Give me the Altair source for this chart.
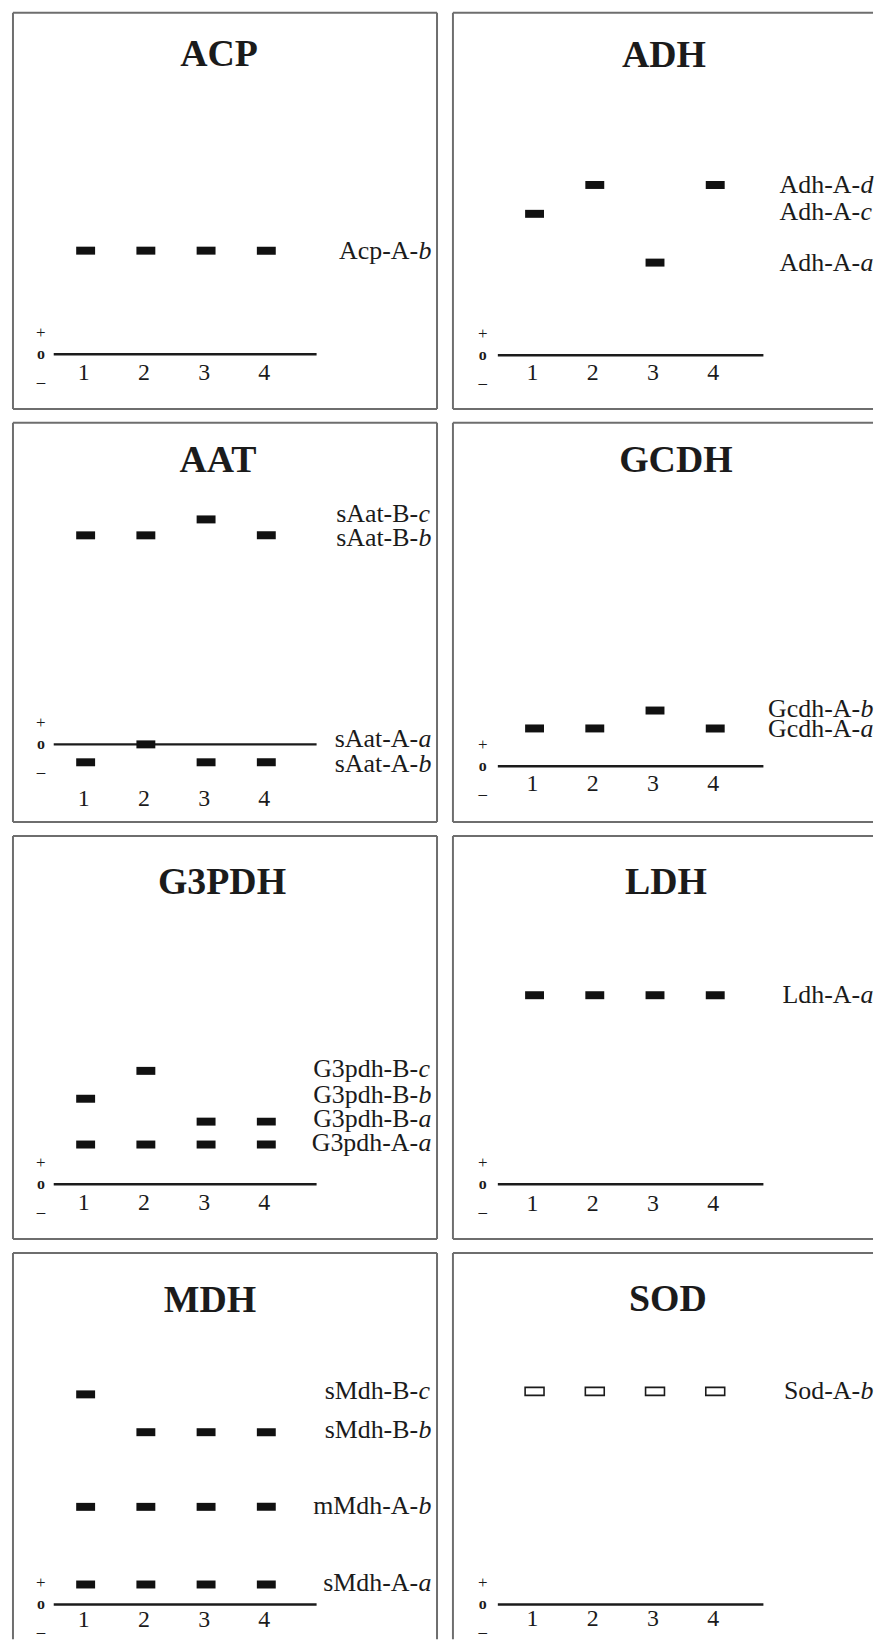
import altair as alt
import pandas as pd

# ---------------- data ----------------
LANES = [1, 2, 3, 4]
LANE_TEXT = ["1", "2", "3", "4"]

ENZYMES = ["ACP", "ADH", "AAT", "GCDH", "G3PDH", "LDH", "MDH", "SOD"]

# relative mobility (units above origin "o"), one entry per allele
ACP_ALLELES = ["Acp-A-b"]
ACP_MOBILITY = [104]
ACP_LABEL_Y = [104]
ACP_LANES = [[1, 2, 3, 4]]

ADH_ALLELES = ["Adh-A-d", "Adh-A-c", "Adh-A-a"]
ADH_MOBILITY = [171, 142, 93]
ADH_LABEL_Y = [171, 144, 93]
ADH_LANES = [[2, 4], [1], [3]]

AAT_ALLELES = ["sAat-B-c", "sAat-B-b", "sAat-A-a", "sAat-A-b"]
AAT_MOBILITY = [226, 210, 0, -18]
AAT_LABEL_Y = [231, 207, 5, -20]
AAT_LANES = [[3], [1, 2, 4], [2], [1, 3, 4]]

GCDH_ALLELES = ["Gcdh-A-b", "Gcdh-A-a"]
GCDH_MOBILITY = [56, 38]
GCDH_LABEL_Y = [58, 37]
GCDH_LANES = [[3], [1, 2, 4]]

G3PDH_ALLELES = ["G3pdh-B-c", "G3pdh-B-b", "G3pdh-B-a", "G3pdh-A-a"]
G3PDH_MOBILITY = [114, 86, 63, 40]
G3PDH_LABEL_Y = [116, 90, 66, 41]
G3PDH_LANES = [[2], [1], [3, 4], [1, 2, 3, 4]]

LDH_ALLELES = ["Ldh-A-a"]
LDH_MOBILITY = [190]
LDH_LABEL_Y = [190]
LDH_LANES = [[1, 2, 3, 4]]

MDH_ALLELES = ["sMdh-B-c", "sMdh-B-b", "mMdh-A-b", "sMdh-A-a"]
MDH_MOBILITY = [211, 173, 98, 20]
MDH_LABEL_Y = [214, 175, 99, 21]
MDH_LANES = [[1], [2, 3, 4], [1, 2, 3, 4], [1, 2, 3, 4]]

SOD_ALLELES = ["Sod-A-b"]
SOD_MOBILITY = [214]
SOD_LABEL_Y = [214]
SOD_LANES = [[1, 2, 3, 4]]

# where lane numbers sit (below origin) and where the origin sits in each gel frame
LANE_NUMBER_Y = [-19, -18, -55, -18, -19, -20, -16, -15]
ORIGIN_FROM_TOP = [343, 344, 323, 345, 350, 350, 353, 353]
HOLLOW = [False, False, False, False, False, False, False, True]

POLARITY_SYMBOLS = ["+", "–"]
POLARITY_Y = [21, -28]
ORIGIN_SYMBOL = ["o"]
ORIGIN_Y = [0]

PANELS = {
    "ACP": (ACP_ALLELES, ACP_MOBILITY, ACP_LABEL_Y, ACP_LANES),
    "ADH": (ADH_ALLELES, ADH_MOBILITY, ADH_LABEL_Y, ADH_LANES),
    "AAT": (AAT_ALLELES, AAT_MOBILITY, AAT_LABEL_Y, AAT_LANES),
    "GCDH": (GCDH_ALLELES, GCDH_MOBILITY, GCDH_LABEL_Y, GCDH_LANES),
    "G3PDH": (G3PDH_ALLELES, G3PDH_MOBILITY, G3PDH_LABEL_Y, G3PDH_LANES),
    "LDH": (LDH_ALLELES, LDH_MOBILITY, LDH_LABEL_Y, LDH_LANES),
    "MDH": (MDH_ALLELES, MDH_MOBILITY, MDH_LABEL_Y, MDH_LANES),
    "SOD": (SOD_ALLELES, SOD_MOBILITY, SOD_LABEL_Y, SOD_LANES),
}

# ---------------- layout / styling ----------------
SERIF = "Liberation Serif"
INK = "#1b1b1b"
FRAME = "#6e6e6e"
COL_WIDTH = [426, 422]
ROW_HEIGHT = [398, 401, 405, 388]
LANE1_PX = [73, 82]          # pixel position of lane 1 in each column
LANE_STEP_PX = 60.5
GEL_START = [0.47, 0.39]     # lane units
GEL_END = [4.835, 4.80]
TITLE_X = [207, 212, 206, 224, 210, 214, 198, 216]
TITLE_Y = [42, 43, 38, 38, 47, 47, 48, 47]
LABEL_ANCHOR = [407, 409]
BAND_HALF_W = 0.157   # lane units
BAND_HALF_H = 4       # mobility units


def frame_layers(col, row, width, height):
    """Gel frame edges; the right column's right edge and the last row's bottom
    edge fall outside the cropped reference picture."""
    one = pd.DataFrame({"k": [0]})
    base = alt.Chart(one).mark_rule(color=FRAME, strokeWidth=2)
    layers = [
        base.encode(x=alt.value(0), x2=alt.value(width), y=alt.value(0)),
        base.encode(x=alt.value(0), y=alt.value(0), y2=alt.value(height)),
    ]
    if col == 0:
        layers.append(base.encode(x=alt.value(width), y=alt.value(0), y2=alt.value(height)))
    if row < 3:
        layers.append(base.encode(x=alt.value(0), x2=alt.value(width), y=alt.value(height)))
    return layers


def make_panel(i, name):
    col, row = i % 2, i // 2
    width, height = COL_WIDTH[col], ROW_HEIGHT[row]
    alleles, mobility, label_y, lanes = PANELS[name]
    x_lo = 1 - LANE1_PX[col] / LANE_STEP_PX
    x_hi = 1 + (width - LANE1_PX[col]) / LANE_STEP_PX
    xs = alt.Scale(domain=[x_lo, x_hi], nice=False, zero=False)
    top = ORIGIN_FROM_TOP[i]
    ys = alt.Scale(domain=[top - height, top], nice=False, zero=False)

    band_df = pd.DataFrame(
        [{"lane": l, "allele": a, "mob": m}
         for a, m, ls in zip(alleles, mobility, lanes) for l in ls]
    )
    label_df = pd.DataFrame({
        "prefix": [a[:-1] for a in alleles],
        "suffix": [a[-1] for a in alleles],
        "ly": label_y,
    })
    lane_df = pd.DataFrame({"lane": LANES, "txt": LANE_TEXT,
                            "ly": [LANE_NUMBER_Y[i]] * len(LANES)})
    pol_df = pd.DataFrame({"s": POLARITY_SYMBOLS, "py": POLARITY_Y})
    org_df = pd.DataFrame({"s": ORIGIN_SYMBOL, "py": ORIGIN_Y})
    gel_df = pd.DataFrame({"a": [GEL_START[col]], "b": [GEL_END[col]], "m": [0]})
    title_df = pd.DataFrame({"t": [name]})

    title = alt.Chart(title_df).mark_text(
        font=SERIF, fontSize=38, fontWeight="bold", color=INK,
        align="center", baseline="middle"
    ).encode(text="t:N", x=alt.value(TITLE_X[i]), y=alt.value(TITLE_Y[i]))

    gel_line = alt.Chart(gel_df).mark_rule(color=INK, strokeWidth=2.5).encode(
        x=alt.X("a:Q", scale=xs, axis=None),
        x2="b:Q",
        y=alt.Y("m:Q", scale=ys, axis=None),
    )

    pol = alt.Chart(pol_df).mark_text(
        font=SERIF, fontSize=17, color=INK, align="center", baseline="middle"
    ).encode(text="s:N", x=alt.value(28 + 2 * col), y=alt.Y("py:Q", scale=ys, axis=None))

    org = alt.Chart(org_df).mark_text(
        font=SERIF, fontSize=16, fontWeight="bold", color=INK,
        align="center", baseline="middle"
    ).encode(text="s:N", x=alt.value(28 + 2 * col), y=alt.Y("py:Q", scale=ys, axis=None))

    lane_nums = alt.Chart(lane_df).mark_text(
        font=SERIF, fontSize=24, color=INK, align="center", baseline="middle", dx=-2
    ).encode(
        text="txt:N",
        x=alt.X("lane:Q", scale=xs, axis=None),
        y=alt.Y("ly:Q", scale=ys, axis=None),
    )

    if HOLLOW[i]:
        band_mark = alt.Chart(band_df).mark_rect(fill="white", stroke=INK, strokeWidth=1.6)
    else:
        band_mark = alt.Chart(band_df).mark_rect(color="#111111")
    bands = band_mark.transform_calculate(
        x0=f"datum.lane - {BAND_HALF_W}", x1=f"datum.lane + {BAND_HALF_W}",
        y0=f"datum.mob - {BAND_HALF_H}", y1=f"datum.mob + {BAND_HALF_H}",
    ).encode(
        x=alt.X("x0:Q", scale=xs, axis=None),
        x2="x1:Q",
        y=alt.Y("y0:Q", scale=ys, axis=None),
        y2="y1:Q",
    )

    prefix = alt.Chart(label_df).mark_text(
        font=SERIF, fontSize=26, color=INK, align="right", baseline="middle"
    ).encode(text="prefix:N", x=alt.value(LABEL_ANCHOR[col]),
             y=alt.Y("ly:Q", scale=ys, axis=None))
    suffix = alt.Chart(label_df).mark_text(
        font=SERIF, fontSize=26, fontStyle="italic", color=INK,
        align="left", baseline="middle"
    ).encode(text="suffix:N", x=alt.value(LABEL_ANCHOR[col] + 0.5),
             y=alt.Y("ly:Q", scale=ys, axis=None))

    return alt.layer(
        *frame_layers(col, row, width, height),
        title, gel_line, pol, org, lane_nums, bands, prefix, suffix
    ).properties(width=width, height=height)


panels = [make_panel(i, n) for i, n in enumerate(ENZYMES)]
rows = [
    alt.hconcat(panels[k], panels[k + 1], spacing=14).resolve_scale(x="independent", y="independent")
    for k in range(0, 8, 2)
]
chart = alt.vconcat(*rows, spacing=12).resolve_scale(
    x="independent", y="independent"
).properties(
    padding={"left": 4, "top": 0, "right": 0, "bottom": 0},
    background="white",
).configure_view(stroke=None)

chart.save("out.html", embed_options={"renderer": "svg", "actions": False})
